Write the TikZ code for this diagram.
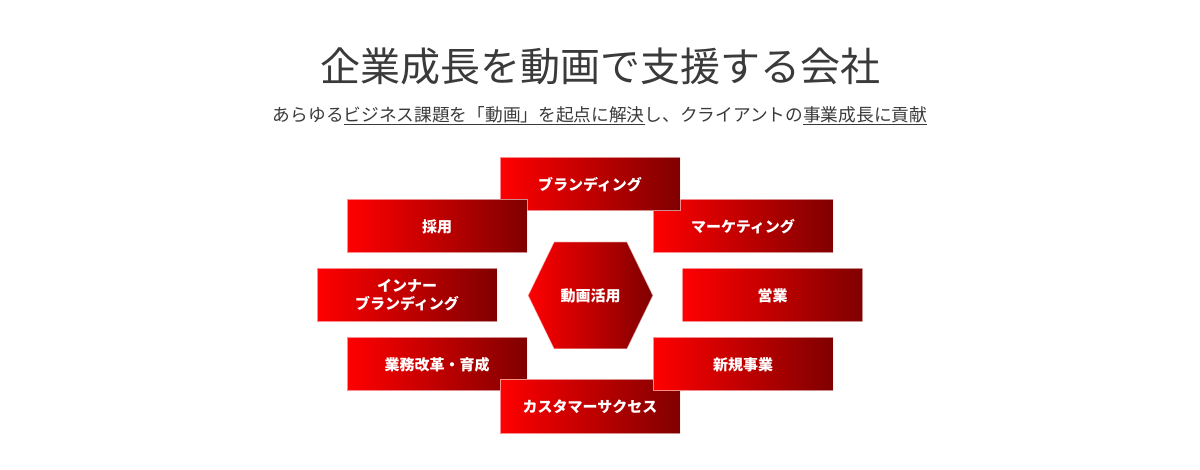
\documentclass[tikz,border=0pt]{standalone}
\usepackage{fontspec}
\setmainfont{Noto Sans CJK JP}
\usepackage{tikz}
\usetikzlibrary{positioning}

\definecolor{tilered}{RGB}{255,0,0}
\definecolor{tiledark}{RGB}{128,0,0}
\definecolor{inkgray}{RGB}{58,58,58}

\begin{document}
\begin{tikzpicture}[
  x=1pt, y=-1pt,
  font=\fontsize{15}{18}\selectfont\bfseries,
  tile/.style={minimum width=180pt, minimum height=53pt, inner sep=0pt, align=center,
    left color=tilered, right color=tiledark, draw=white, draw opacity=0.55,
    line width=1pt, text=white},
]
\useasboundingbox (0,0) rectangle (1200,470);

\node[font=\fontsize{40}{40}\selectfont, text=inkgray] (title) at (600,66)
  {企業成長を動画で支援する会社};
\node[font=\fontsize{17.7}{20}\selectfont, text=inkgray] (lead) at (600,116)
  {あらゆる\underline{ビジネス課題を「動画」を起点に解決}し、クライアントの\underline{事業成長に貢献}};

% ring of tiles
\node[tile] (mkt) at (743,226.5) {マーケティング};
\node[tile] (brand) at (590,184.5) {ブランディング};
\node[tile] (hire) at (437,226.5) {採用};
\node[tile] (inner) at (407,295.5) {インナー\\ブランディング};
\node[tile] (sales) at (772.5,295.5) {営業};
\node[tile] (ops) at (437,364.5) {業務改革・育成};
\node[tile] (cs) at (590,406.5) {カスタマーサクセス};
\node[tile] (newbiz) at (743,364.5) {新規事業};

% hub
\shade[left color=tilered, right color=tiledark, draw=white, draw opacity=0.55, line width=1pt]
  (528,295.5) -- (554,242) -- (627,242) -- (653,295.5) -- (627,349) -- (554,349) -- cycle;
\node[text=white] (hub) at (590.5,295.5) {動画活用};

\end{tikzpicture}
\end{document}
